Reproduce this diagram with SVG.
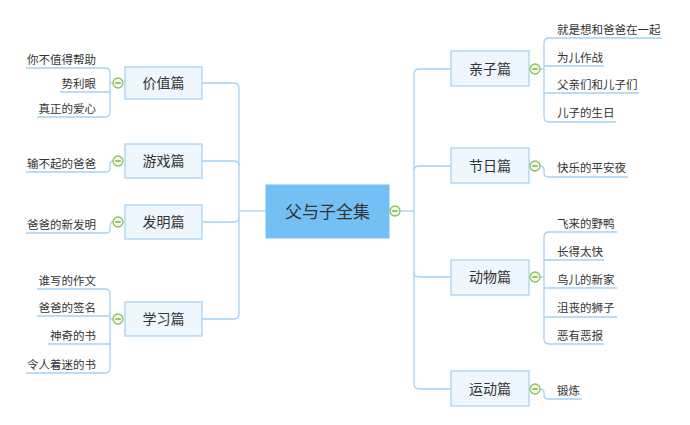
<svg xmlns="http://www.w3.org/2000/svg" width="690" height="425" viewBox="0 0 690 425">
<defs>
<style>
.ln{fill:none;stroke:#a3d2f4;stroke-width:1.3}
.nd{fill:#eef6fe;stroke:#a6d4f6;stroke-width:1.3}
.ctr{fill:#74bff4;stroke:#74bff4}
.nt{font-family:"Noto Sans CJK SC","Microsoft YaHei",sans-serif;font-size:14px;fill:#333;text-anchor:middle}
.ct{font-family:"Noto Sans CJK SC",sans-serif;font-size:17px;fill:#333;text-anchor:middle}
.lt{font-family:"Noto Sans CJK SC",sans-serif;font-size:11.5px;fill:#333}
.r{text-anchor:end}
.cc{fill:#f4faee;stroke:#8cc152;stroke-width:1.3}
.cm{stroke:#6aa338;stroke-width:1.3}
</style>
<g id="col">
<circle class="cc" cx="0" cy="0" r="5"/>
<line class="cm" x1="-2.8" y1="0" x2="2.8" y2="0"/>
</g>
</defs>
<rect width="690" height="425" fill="#fff"/>
<g id="connectors">
<path class="ln" d="M239,211 H266"/>
<path class="ln" d="M400,211 H414"/>
<path class="ln" d="M202,83 H234 Q239,83 239,88 V314 Q239,319 234,319 H202"/>
<path class="ln" d="M202,161 H234 Q239,161 239,166"/>
<path class="ln" d="M202,222 H234 Q239,222 239,217"/>
<path class="ln" d="M451,69 H419 Q414,69 414,74 V384 Q414,389 419,389 H451"/>
<path class="ln" d="M451,166 H419 Q414,166 414,171"/>
<path class="ln" d="M451,277 H419 Q414,277 414,272"/>
<path class="ln" d="M26,68 H105 Q110,68 110,73 V112 Q110,117 105,117 H37"/>
<path class="ln" d="M60,92 H110"/>
<path class="ln" d="M110,83 H113"/>
<path class="ln" d="M113,161 Q110,161 110,165 V168 Q110,172 106,172 H26"/>
<path class="ln" d="M113,222 Q110,222 110,226 V229 Q110,233 106,233 H26"/>
<path class="ln" d="M37,289 H105 Q110,289 110,294 V368 Q110,373 105,373 H26"/>
<path class="ln" d="M37,316 H110"/>
<path class="ln" d="M48,344 H110"/>
<path class="ln" d="M110,319 H113"/>
<path class="ln" d="M662,38 H549 Q544,38 544,43 V117 Q544,122 549,122 H616"/>
<path class="ln" d="M604,66 H544"/>
<path class="ln" d="M639,93 H544"/>
<path class="ln" d="M540,69 H544"/>
<path class="ln" d="M540,166 Q544,166 544,170 V173 Q544,177 548,177 H628"/>
<path class="ln" d="M617,232 H549 Q544,232 544,237 V339 Q544,344 549,344 H604"/>
<path class="ln" d="M604,260 H544"/>
<path class="ln" d="M617,288 H544"/>
<path class="ln" d="M617,317 H544"/>
<path class="ln" d="M540,277 H544"/>
<path class="ln" d="M540,389 Q544,389 544,393 V395 Q544,399 548,399 H582"/>
</g>
<g id="root">
<rect class="ctr" x="266" y="185" width="123" height="53"/>
<text class="ct" x="327.5" y="217.5">父与子全集</text>
<use href="#col" x="395" y="211"/>
</g>
<g id="n-jiazhi">
<rect class="nd" x="125" y="67" width="77" height="32"/>
<text class="nt" x="163.5" y="88">价值篇</text>
<use href="#col" x="118" y="83"/>
</g>
<g id="n-youxi">
<rect class="nd" x="125" y="144" width="77" height="34"/>
<text class="nt" x="163.5" y="166">游戏篇</text>
<use href="#col" x="118" y="161"/>
</g>
<g id="n-faming">
<rect class="nd" x="125" y="205" width="77" height="34"/>
<text class="nt" x="163.5" y="227">发明篇</text>
<use href="#col" x="118" y="222"/>
</g>
<g id="n-xuexi">
<rect class="nd" x="125" y="302" width="77" height="34"/>
<text class="nt" x="163.5" y="324">学习篇</text>
<use href="#col" x="118" y="319"/>
</g>
<g id="n-qinzi">
<rect class="nd" x="451" y="51" width="78" height="35"/>
<text class="nt" x="490" y="74">亲子篇</text>
<use href="#col" x="535" y="69"/>
</g>
<g id="n-jieri">
<rect class="nd" x="451" y="148" width="78" height="35"/>
<text class="nt" x="490" y="171">节日篇</text>
<use href="#col" x="535" y="166"/>
</g>
<g id="n-dongwu">
<rect class="nd" x="451" y="260" width="78" height="35"/>
<text class="nt" x="490" y="282">动物篇</text>
<use href="#col" x="535" y="277"/>
</g>
<g id="n-yundong">
<rect class="nd" x="451" y="371" width="78" height="35"/>
<text class="nt" x="490" y="394">运动篇</text>
<use href="#col" x="535" y="389"/>
</g>
<g id="leaves-left">
<text class="lt r" x="96" y="63.5">你不值得帮助</text>
<text class="lt r" x="96" y="87.5">势利眼</text>
<text class="lt r" x="96" y="112.5">真正的爱心</text>
<text class="lt r" x="96" y="167.5">输不起的爸爸</text>
<text class="lt r" x="96" y="228.5">爸爸的新发明</text>
<text class="lt r" x="96" y="284.5">谁写的作文</text>
<text class="lt r" x="96" y="311.5">爸爸的签名</text>
<text class="lt r" x="96" y="339.5">神奇的书</text>
<text class="lt r" x="96" y="368.5">令人着迷的书</text>
</g>
<g id="leaves-right">
<text class="lt" x="557" y="33.5">就是想和爸爸在一起</text>
<text class="lt" x="557" y="61.5">为儿作战</text>
<text class="lt" x="557" y="88.5">父亲们和儿子们</text>
<text class="lt" x="557" y="117">儿子的生日</text>
<text class="lt" x="557" y="172">快乐的平安夜</text>
<text class="lt" x="557" y="227.5">飞来的野鸭</text>
<text class="lt" x="557" y="255.5">长得太快</text>
<text class="lt" x="557" y="283.5">鸟儿的新家</text>
<text class="lt" x="557" y="312">沮丧的狮子</text>
<text class="lt" x="557" y="339.5">恶有恶报</text>
<text class="lt" x="557" y="394.5">锻炼</text>
</g>
</svg>
